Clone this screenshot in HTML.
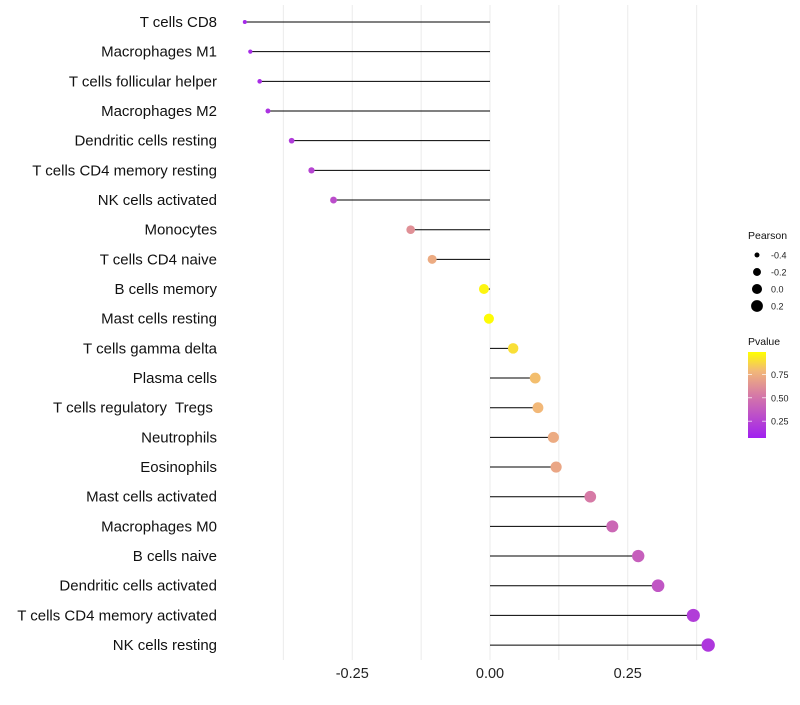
<!DOCTYPE html>
<html><head><meta charset="utf-8"><style>
body{margin:0;background:#fff;font-family:"Liberation Sans",sans-serif}
text{white-space:pre}
</style></head><body>
<svg id="chart" width="800" height="700" xmlns="http://www.w3.org/2000/svg" font-family="Liberation Sans, sans-serif">
<defs><linearGradient id="pg" x1="0" y1="1" x2="0" y2="0">
<stop offset="0" stop-color="#a020f0"/><stop offset="0.5" stop-color="#d67aa6"/><stop offset="0.78" stop-color="#f2b878"/><stop offset="1" stop-color="#ffff00"/></linearGradient></defs>
<g id="grid"></g><g id="marks"></g><g id="labels"></g><g id="legend"></g>
</svg>
<script>
const categories=["T cells CD8","Macrophages M1","T cells follicular helper","Macrophages M2","Dendritic cells resting","T cells CD4 memory resting","NK cells activated","Monocytes","T cells CD4 naive","B cells memory","Mast cells resting","T cells gamma delta","Plasma cells","T cells regulatory  Tregs ","Neutrophils","Eosinophils","Mast cells activated","Macrophages M0","B cells naive","Dendritic cells activated","T cells CD4 memory activated","NK cells resting"];
const pearson=[-0.445,-0.435,-0.418,-0.403,-0.36,-0.324,-0.284,-0.144,-0.105,-0.011,-0.002,0.042,0.082,0.087,0.115,0.12,0.182,0.222,0.269,0.305,0.369,0.396];
const pvalue=[0.05,0.06,0.07,0.1,0.15,0.2,0.25,0.6,0.72,0.97,0.99,0.9,0.8,0.78,0.72,0.7,0.5,0.4,0.35,0.3,0.16,0.13];
const xTicks=[-0.25,0,0.25];
const xTickLabels=["-0.25","0.00","0.25"];
const xMinor=[-0.375,-0.125,0.125,0.375];
const NS="http://www.w3.org/2000/svg";
const X=v=>490+v*551;
const Y=i=>22+i*29.67;
const R=v=>Math.sqrt(4+48*(v+0.445));
function col(p){
 const st=[[0,[160,32,240]],[0.5,[214,122,166]],[0.78,[242,184,120]],[1,[255,255,0]]];
 for(let k=1;k<st.length;k++){if(p<=st[k][0]){const a=st[k-1],b=st[k];const t=(p-a[0])/(b[0]-a[0]);
 return "rgb("+a[1].map((c,j)=>Math.round(c+(b[1][j]-c)*t)).join(",")+")";}}
 return "rgb(255,255,0)";}
function mk(tag,at,par){const e=document.createElementNS(NS,tag);for(const k in at)e.setAttribute(k,at[k]);document.getElementById(par).appendChild(e);return e;}
xMinor.concat(xTicks).forEach(v=>{const l=mk("line",{x1:X(v),x2:X(v),y1:5,y2:660,stroke:"#ebebeb","stroke-width":1},"grid");

});
xTicks.forEach((v,i)=>{const t=mk("text",{x:X(v),y:678,"text-anchor":"middle","font-size":14.5,fill:"#222"},"labels");t.textContent=xTickLabels[i];

});
categories.forEach((c,i)=>{
 const t=mk("text",{x:217,y:Y(i)+5,"text-anchor":"end","font-size":15,fill:"#111"},"labels");t.textContent=c;
 
 
 const l=mk("line",{x1:X(0),x2:X(pearson[i]),y1:Y(i),y2:Y(i),stroke:"#000","stroke-width":1},"marks");
 
 
 const d=mk("circle",{cx:X(pearson[i]),cy:Y(i),r:R(pearson[i]),fill:col(pvalue[i])},"marks");
 
 
});
const lt=mk("text",{x:748,y:239,"font-size":10.5,fill:"#111"},"legend");lt.textContent="Pearson";


[-0.4,-0.2,0,0.2].forEach((v,i)=>{const y=255+i*17;
 const c=mk("circle",{cx:757,cy:y,r:R(v),fill:"#000"},"legend");
 
 
 const t=mk("text",{x:771,y:y+3.5,"font-size":9,fill:"#222"},"legend");t.textContent=v===0?"0.0":v.toFixed(1);
 
 });
const ct=mk("text",{x:748,y:345,"font-size":10.5,fill:"#111"},"legend");ct.textContent="Pvalue";


const bar=mk("rect",{x:748,y:352,width:18,height:86,fill:"url(#pg)"},"legend");


[0.75,0.5,0.25].forEach(v=>{const y=352+86*(1-(v-0.07)/0.92);
 const t=mk("text",{x:771,y:y+3.5,"font-size":9,fill:"#222"},"legend");t.textContent=v.toFixed(2);
 
 
 mk("line",{x1:748,x2:752,y1:y,y2:y,stroke:"#fff","stroke-width":0.7},"legend");
 mk("line",{x1:762,x2:766,y1:y,y2:y,stroke:"#fff","stroke-width":0.7},"legend");});
</script>
</body></html>
